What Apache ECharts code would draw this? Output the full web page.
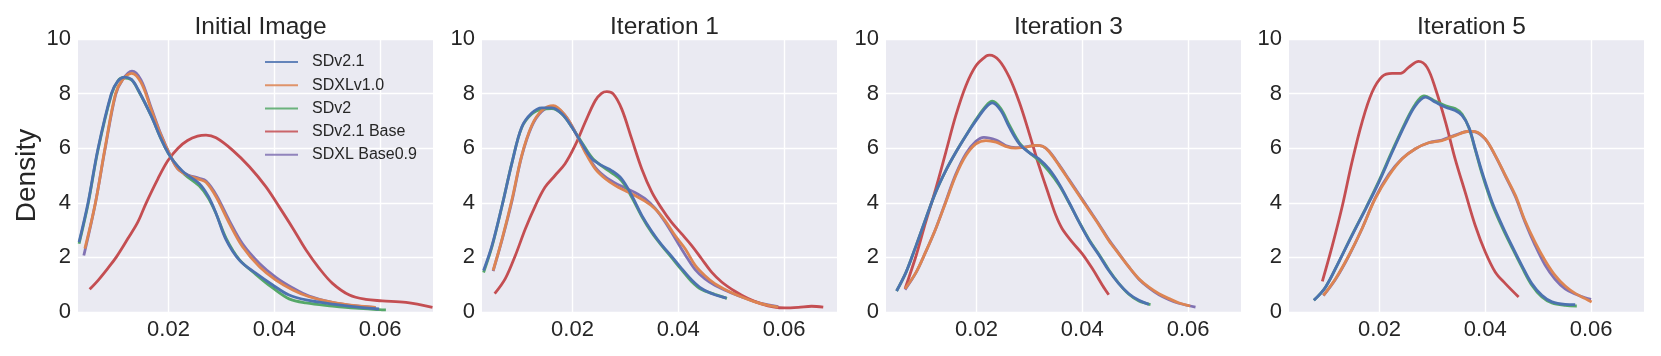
<!DOCTYPE html>
<html>
<head>
<meta charset="utf-8">
<script src="https://cdn.jsdelivr.net/npm/echarts@6/dist/echarts.min.js"></script>
<style>
  html, body { margin: 0; padding: 0; background: #fff; }
  #chart { width: 1661px; height: 356px; }
</style>
</head>
<body>
<div id="chart"></div>
<script>
  // panel titles, legend names, ticks
  const panelTitles = ['Initial Image', 'Iteration 1', 'Iteration 3', 'Iteration 5'];
  const modelNames = ['SDv2.1', 'SDXLv1.0', 'SDv2', 'SDv2.1 Base', 'SDXL Base0.9'];
  const xTicks = [0.02, 0.04, 0.06];
  const xRange = [0.0029, 0.07];
  const yRange = [0, 10];

  // Initial Image  ([x, density])
  const initSDv21 = [[0.0031,2.56],[0.0048,4.0],[0.0067,6.0],[0.0092,8.0],[0.0104,8.45],[0.0117,8.6],[0.0130,8.52],[0.0142,8.17],[0.0167,7.2],[0.0186,6.34],[0.0200,5.8],[0.0211,5.49],[0.0230,5.1],[0.0258,4.71],[0.0275,4.25],[0.0290,3.61],[0.0309,2.64],[0.0334,1.9],[0.0365,1.42],[0.0397,0.99],[0.0428,0.62],[0.0460,0.44],[0.0510,0.29],[0.0554,0.19],[0.0598,0.11]];
  const initSDXLv10 = [[0.0042,2.32],[0.0062,4.0],[0.0080,6.0],[0.0100,8.0],[0.0113,8.5],[0.0130,8.74],[0.0148,8.41],[0.0167,7.44],[0.0186,6.46],[0.0205,5.67],[0.0218,5.24],[0.0237,5.0],[0.0258,4.86],[0.0271,4.75],[0.0290,4.22],[0.0315,3.25],[0.0340,2.39],[0.0372,1.66],[0.0403,1.17],[0.0435,0.81],[0.0466,0.56],[0.0510,0.35],[0.0554,0.23],[0.0592,0.17]];
  const initSDv2 = [[0.0031,2.5],[0.0048,3.95],[0.0067,5.95],[0.0092,7.95],[0.0104,8.45],[0.0114,8.58],[0.0130,8.5],[0.0142,8.15],[0.0167,7.2],[0.0186,6.34],[0.0200,5.8],[0.0211,5.49],[0.0230,5.05],[0.0258,4.62],[0.0275,4.18],[0.0290,3.6],[0.0309,2.7],[0.0334,1.92],[0.0365,1.38],[0.0397,0.88],[0.0428,0.48],[0.0460,0.33],[0.0510,0.22],[0.0554,0.14],[0.0598,0.09],[0.0611,0.08]];
  const initSDv21Base = [[0.0051,0.83],[0.0067,1.16],[0.0085,1.59],[0.0101,2.0],[0.0123,2.68],[0.0142,3.29],[0.0158,4.0],[0.0180,4.88],[0.0199,5.55],[0.0218,6.0],[0.0236,6.28],[0.0255,6.44],[0.0271,6.48],[0.0290,6.38],[0.0321,5.93],[0.0353,5.32],[0.0384,4.59],[0.0409,3.86],[0.0435,3.07],[0.0460,2.27],[0.0485,1.6],[0.0510,1.05],[0.0542,0.62],[0.0573,0.46],[0.0604,0.41],[0.0649,0.35],[0.0699,0.17]];
  const initSDXLBase09 = [[0.0040,2.07],[0.0061,3.9],[0.0080,5.95],[0.0100,7.95],[0.0113,8.5],[0.0131,8.82],[0.0148,8.5],[0.0167,7.5],[0.0186,6.5],[0.0205,5.67],[0.0218,5.24],[0.0237,5.02],[0.0258,4.9],[0.0271,4.8],[0.0290,4.3],[0.0315,3.35],[0.0340,2.5],[0.0372,1.78],[0.0403,1.27],[0.0435,0.88],[0.0466,0.58],[0.0510,0.35],[0.0554,0.22],[0.0589,0.17]];

  // Iteration 1
  const it1SDv21 = [[0.0032,1.52],[0.0048,2.44],[0.0067,3.9],[0.0086,5.49],[0.0104,6.77],[0.0123,7.29],[0.0142,7.48],[0.0161,7.48],[0.0180,7.26],[0.0199,6.77],[0.0218,6.16],[0.0237,5.61],[0.0255,5.37],[0.0274,5.18],[0.0293,4.88],[0.0312,4.27],[0.0331,3.54],[0.0350,2.95],[0.0369,2.45],[0.0387,2.05],[0.0406,1.6],[0.0425,1.18],[0.0444,0.86],[0.0469,0.63],[0.0491,0.51]];
  const it1SDXLv10 = [[0.0050,1.52],[0.0067,2.68],[0.0086,4.15],[0.0104,5.73],[0.0123,6.83],[0.0142,7.38],[0.0164,7.56],[0.0186,7.2],[0.0205,6.59],[0.0224,5.85],[0.0243,5.24],[0.0262,4.88],[0.0281,4.63],[0.0299,4.45],[0.0318,4.27],[0.0337,4.06],[0.0356,3.78],[0.0375,3.35],[0.0394,2.8],[0.0413,2.32],[0.0432,1.71],[0.0450,1.34],[0.0469,1.04],[0.0494,0.77],[0.0520,0.55],[0.0545,0.37],[0.0570,0.24],[0.0589,0.18]];
  const it1SDv2 = [[0.0032,1.45],[0.0048,2.4],[0.0067,3.9],[0.0086,5.5],[0.0104,6.75],[0.0123,7.25],[0.0142,7.42],[0.0161,7.45],[0.0180,7.25],[0.0199,6.77],[0.0218,6.2],[0.0237,5.65],[0.0255,5.35],[0.0274,5.1],[0.0293,4.8],[0.0312,4.2],[0.0331,3.5],[0.0350,2.9],[0.0369,2.42],[0.0387,2.0],[0.0406,1.55],[0.0425,1.12],[0.0444,0.82],[0.0469,0.65],[0.0492,0.5]];
  const it1SDv21Base = [[0.0053,0.67],[0.0073,1.22],[0.0092,2.07],[0.0111,3.05],[0.0130,3.9],[0.0148,4.57],[0.0167,5.0],[0.0186,5.43],[0.0205,6.1],[0.0224,6.95],[0.0243,7.74],[0.0255,8.01],[0.0265,8.07],[0.0277,7.99],[0.0293,7.44],[0.0312,6.34],[0.0331,5.24],[0.0350,4.39],[0.0369,3.78],[0.0387,3.29],[0.0406,2.87],[0.0425,2.44],[0.0444,1.95],[0.0463,1.46],[0.0482,1.1],[0.0507,0.76],[0.0532,0.49],[0.0557,0.3],[0.0582,0.18],[0.0601,0.15],[0.0627,0.17],[0.0652,0.21],[0.0674,0.18]];
  const it1SDXLBase09 = [[0.0050,1.5],[0.0067,2.65],[0.0086,4.1],[0.0104,5.7],[0.0123,6.8],[0.0142,7.35],[0.0164,7.52],[0.0186,7.2],[0.0205,6.6],[0.0224,5.9],[0.0243,5.3],[0.0262,4.95],[0.0281,4.72],[0.0299,4.55],[0.0318,4.38],[0.0337,4.15],[0.0356,3.8],[0.0375,3.3],[0.0394,2.7],[0.0413,2.1],[0.0432,1.55],[0.0450,1.22],[0.0469,0.98],[0.0494,0.75],[0.0520,0.55],[0.0545,0.38],[0.0570,0.26],[0.0589,0.2]];

  // Iteration 3
  const it3SDv21 = [[0.0049,0.77],[0.0067,1.46],[0.0086,2.44],[0.0104,3.41],[0.0123,4.39],[0.0142,5.18],[0.0161,5.85],[0.0180,6.46],[0.0199,7.01],[0.0218,7.5],[0.0230,7.66],[0.0246,7.38],[0.0262,6.77],[0.0281,6.16],[0.0299,5.85],[0.0318,5.61],[0.0337,5.24],[0.0356,4.7],[0.0375,4.02],[0.0394,3.29],[0.0413,2.62],[0.0432,2.07],[0.0450,1.52],[0.0469,1.04],[0.0488,0.67],[0.0507,0.43],[0.0526,0.28]];
  const it3SDXLv10 = [[0.0065,0.85],[0.0086,1.46],[0.0104,2.2],[0.0123,3.05],[0.0142,4.02],[0.0161,5.0],[0.0180,5.73],[0.0199,6.16],[0.0218,6.28],[0.0237,6.22],[0.0255,6.07],[0.0274,6.0],[0.0293,6.04],[0.0312,6.1],[0.0325,6.07],[0.0337,5.88],[0.0356,5.37],[0.0375,4.82],[0.0394,4.27],[0.0413,3.72],[0.0432,3.17],[0.0450,2.62],[0.0469,2.13],[0.0488,1.65],[0.0507,1.22],[0.0526,0.91],[0.0545,0.67],[0.0564,0.49],[0.0582,0.34],[0.0604,0.22]];
  const it3SDv2 = [[0.0049,0.77],[0.0067,1.46],[0.0086,2.44],[0.0104,3.41],[0.0123,4.39],[0.0142,5.18],[0.0161,5.85],[0.0180,6.46],[0.0199,7.05],[0.0218,7.55],[0.0230,7.72],[0.0246,7.45],[0.0262,6.85],[0.0281,6.2],[0.0299,5.85],[0.0318,5.55],[0.0337,5.15],[0.0356,4.65],[0.0375,4.0],[0.0394,3.3],[0.0413,2.65],[0.0432,2.1],[0.0450,1.55],[0.0469,1.05],[0.0488,0.65],[0.0507,0.4],[0.0529,0.27]];
  const it3SDv21Base = [[0.0065,0.85],[0.0086,2.07],[0.0104,3.29],[0.0123,4.51],[0.0142,5.85],[0.0161,7.2],[0.0180,8.29],[0.0199,9.02],[0.0218,9.37],[0.0225,9.41],[0.0243,9.21],[0.0262,8.6],[0.0281,7.68],[0.0299,6.59],[0.0318,5.37],[0.0337,4.27],[0.0350,3.54],[0.0362,3.05],[0.0381,2.56],[0.0400,2.13],[0.0419,1.59],[0.0438,0.98],[0.0450,0.63]];
  const it3SDXLBase09 = [[0.0065,0.82],[0.0086,1.45],[0.0104,2.2],[0.0123,3.05],[0.0142,4.05],[0.0161,5.05],[0.0180,5.8],[0.0199,6.25],[0.0214,6.4],[0.0237,6.3],[0.0255,6.1],[0.0274,6.02],[0.0293,6.05],[0.0312,6.1],[0.0325,6.07],[0.0337,5.9],[0.0356,5.4],[0.0375,4.85],[0.0394,4.3],[0.0413,3.75],[0.0432,3.2],[0.0450,2.65],[0.0469,2.15],[0.0488,1.65],[0.0507,1.2],[0.0526,0.88],[0.0545,0.63],[0.0564,0.45],[0.0582,0.32],[0.0614,0.18]];

  // Iteration 5
  const it5SDv21 = [[0.0076,0.43],[0.0098,0.91],[0.0123,1.83],[0.0148,2.8],[0.0174,3.78],[0.0199,4.76],[0.0224,5.85],[0.0249,6.89],[0.0268,7.56],[0.0287,7.87],[0.0306,7.68],[0.0325,7.5],[0.0343,7.38],[0.0356,7.2],[0.0369,6.77],[0.0381,5.98],[0.0394,5.12],[0.0413,4.02],[0.0432,3.17],[0.0450,2.44],[0.0469,1.71],[0.0488,1.04],[0.0507,0.61],[0.0526,0.37],[0.0551,0.28],[0.0570,0.27]];
  const it5SDXLv10 = [[0.0094,0.61],[0.0117,1.22],[0.0142,2.07],[0.0167,3.05],[0.0192,4.15],[0.0218,5.0],[0.0243,5.61],[0.0268,5.98],[0.0293,6.2],[0.0318,6.28],[0.0343,6.46],[0.0369,6.62],[0.0381,6.61],[0.0400,6.34],[0.0419,5.73],[0.0438,5.0],[0.0457,4.27],[0.0475,3.35],[0.0494,2.56],[0.0513,1.89],[0.0532,1.34],[0.0551,0.95],[0.0570,0.68],[0.0589,0.49],[0.0601,0.37]];
  const it5SDv2 = [[0.0076,0.43],[0.0098,0.91],[0.0123,1.83],[0.0148,2.82],[0.0174,3.8],[0.0199,4.8],[0.0224,5.9],[0.0249,6.95],[0.0268,7.62],[0.0284,7.92],[0.0306,7.72],[0.0325,7.55],[0.0343,7.45],[0.0356,7.25],[0.0369,6.75],[0.0381,5.95],[0.0394,5.05],[0.0413,3.95],[0.0432,3.1],[0.0450,2.38],[0.0469,1.65],[0.0488,0.98],[0.0507,0.55],[0.0526,0.33],[0.0551,0.24],[0.0573,0.22]];
  const it5SDv21Base = [[0.0092,1.12],[0.0111,2.44],[0.0130,3.9],[0.0148,5.49],[0.0167,6.95],[0.0186,8.05],[0.0205,8.63],[0.0224,8.74],[0.0240,8.74],[0.0255,8.96],[0.0274,9.18],[0.0290,8.96],[0.0306,8.17],[0.0325,6.95],[0.0343,5.61],[0.0362,4.39],[0.0381,3.17],[0.0400,2.2],[0.0419,1.46],[0.0438,1.04],[0.0463,0.55]];
  const it5SDXLBase09 = [[0.0094,0.6],[0.0117,1.2],[0.0142,2.05],[0.0167,3.05],[0.0192,4.18],[0.0218,5.05],[0.0243,5.62],[0.0268,5.98],[0.0293,6.2],[0.0318,6.3],[0.0343,6.48],[0.0369,6.62],[0.0381,6.6],[0.0400,6.33],[0.0419,5.72],[0.0438,4.98],[0.0457,4.22],[0.0475,3.3],[0.0494,2.45],[0.0513,1.72],[0.0532,1.2],[0.0551,0.85],[0.0570,0.66],[0.0589,0.52],[0.0600,0.46]];

  // per panel, in legend order
  const panelCurves = [
    [initSDv21, initSDXLv10, initSDv2, initSDv21Base, initSDXLBase09],
    [it1SDv21, it1SDXLv10, it1SDv2, it1SDv21Base, it1SDXLBase09],
    [it3SDv21, it3SDXLv10, it3SDv2, it3SDv21Base, it3SDXLBase09],
    [it5SDv21, it5SDXLv10, it5SDv2, it5SDv21Base, it5SDXLBase09],
  ];

  const colors = ['#4C72B0', '#DD8452', '#55A868', '#C44E52', '#8172B3'];
  const drawOrder = [4, 3, 2, 1, 0]; // seaborn draws last hue first, blue ends on top
  const font = '"Liberation Sans", Arial, sans-serif';
  const textColor = '#262626';
  const gridLefts = [78, 482, 886, 1289];

  const grids = [], xAxes = [], yAxes = [], titles = [], series = [];

  panelTitles.forEach((t, i) => {
    grids.push({
      left: gridLefts[i], top: 39, width: 355, height: 273,
      show: true, backgroundColor: '#EAEAF2', borderWidth: 0,
    });
    titles.push({
      text: t, left: gridLefts[i] + 177.5, top: 10, textAlign: 'center',
      textStyle: { fontFamily: font, fontSize: 24.5, fontWeight: 'normal', color: textColor },
    });
    xAxes.push({
      type: 'value', gridIndex: i, min: xRange[0], max: xRange[1],
      axisLine: { show: false },
      axisTick: { show: false, customValues: xTicks },
      axisLabel: {
        customValues: xTicks, margin: 7,
        fontFamily: font, fontSize: 22, color: textColor,
        formatter: (v) => v.toFixed(2),
      },
      splitLine: { show: true, lineStyle: { color: '#ffffff', width: 1.4 } },
    });
    yAxes.push({
      type: 'value', gridIndex: i, min: yRange[0], max: yRange[1], interval: 2,
      name: i === 0 ? 'Density' : '', nameLocation: 'middle', nameGap: 37,
      nameTextStyle: { fontFamily: font, fontSize: 28, color: textColor },
      axisLine: { show: false }, axisTick: { show: false },
      axisLabel: { margin: 7, fontFamily: font, fontSize: 22, color: textColor },
      splitLine: { show: true, lineStyle: { color: '#ffffff', width: 1.4 } },
    });
    drawOrder.forEach((k) => {
      series.push({
        type: 'line', name: modelNames[k], xAxisIndex: i, yAxisIndex: i,
        data: panelCurves[i][k], smooth: 0.35, symbol: 'none',
        lineStyle: { width: 2.8, color: colors[k] },
        itemStyle: { color: colors[k] },
        emphasis: { disabled: true },
      });
    });
  });

  const chart = echarts.init(document.getElementById('chart'));
  chart.setOption({
    animation: false,
    title: titles,
    grid: grids,
    xAxis: xAxes,
    yAxis: yAxes,
    legend: {
      data: modelNames, orient: 'vertical', left: 260, top: 49,
      icon: 'rect', itemWidth: 33, itemHeight: 2, itemGap: 7.2,
      itemStyle: { opacity: 0.85 },
      textStyle: { fontFamily: font, fontSize: 16, color: textColor, padding: [0, 0, 0, 9] },
    },
    series: series,
  });
</script>
</body>
</html>
